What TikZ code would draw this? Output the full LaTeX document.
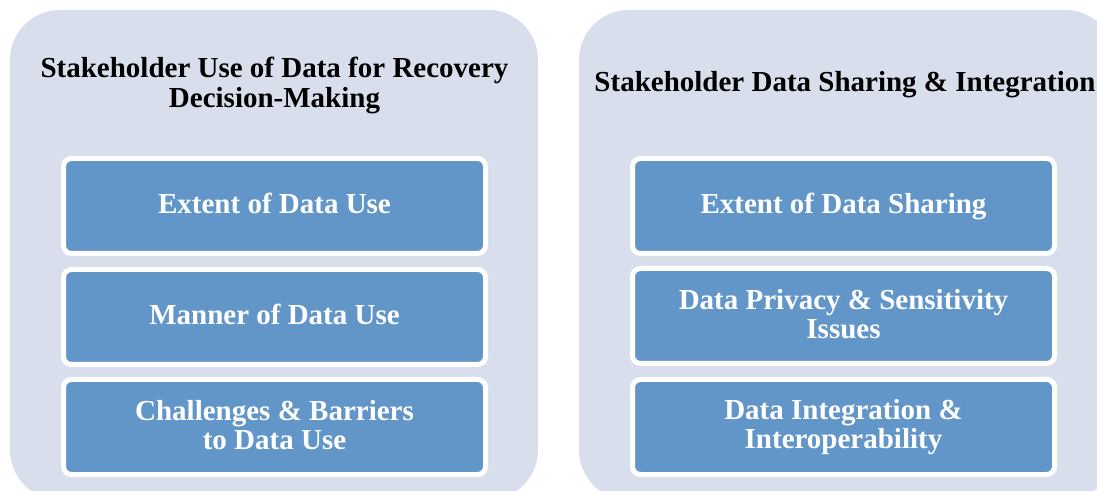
\documentclass[tikz,border=0pt]{standalone}
\usepackage{fontspec}
\setmainfont{Liberation Serif}
\definecolor{panelbg}{HTML}{D9DEEC}
\definecolor{boxblue}{HTML}{6296C9}
\newcommand{\ls}{\rule[-0.165\baselineskip]{0pt}{0.835\baselineskip}}
\begin{document}
\begin{tikzpicture}[x=1pt,y=1pt,
  panel/.style={fill=panelbg, draw=none, rounded corners=50pt},
  itembox/.style={fill=boxblue, draw=white, line width=5pt, rounded corners=8pt,
    minimum width=422pt, minimum height=95pt, align=center, text=white,
    font=\fontsize{29}{29}\selectfont\bfseries},
  titletext/.style={align=center, text=black, font=\fontsize{29}{30}\selectfont\bfseries}]
\useasboundingbox (0,0) rectangle (1097,490);
\clip (0,0) rectangle (1097,490);
% panels (y_tikz = 490 - y_px)
\fill[panel] (10,-10) rectangle (538,480);
\fill[panel] (579,-10) rectangle (1115,480);
% titles
\node[titletext] (t1) at (274.5,405) {\ls Stakeholder Use of Data for Recovery\\\ls Decision-Making};
\node[titletext] (t2) at (845,405) {\ls Stakeholder Data Sharing \& Integration};
% left boxes
\node[itembox] (l1) at (274.5,284) {\ls Extent of Data Use};
\node[itembox] (l2) at (274.5,173) {\ls Manner of Data Use};
\node[itembox] (l3) at (274.5,63) {\ls Challenges \& Barriers\\\ls to Data Use};
% right boxes
\node[itembox] (r1) at (843.5,284) {\ls Extent of Data Sharing};
\node[itembox] (r2) at (843.5,174) {\ls Data Privacy \& Sensitivity\\\ls Issues};
\node[itembox] (r3) at (843.5,63) {\ls Data Integration \&\\\ls Interoperability};
\end{tikzpicture}
\end{document}
